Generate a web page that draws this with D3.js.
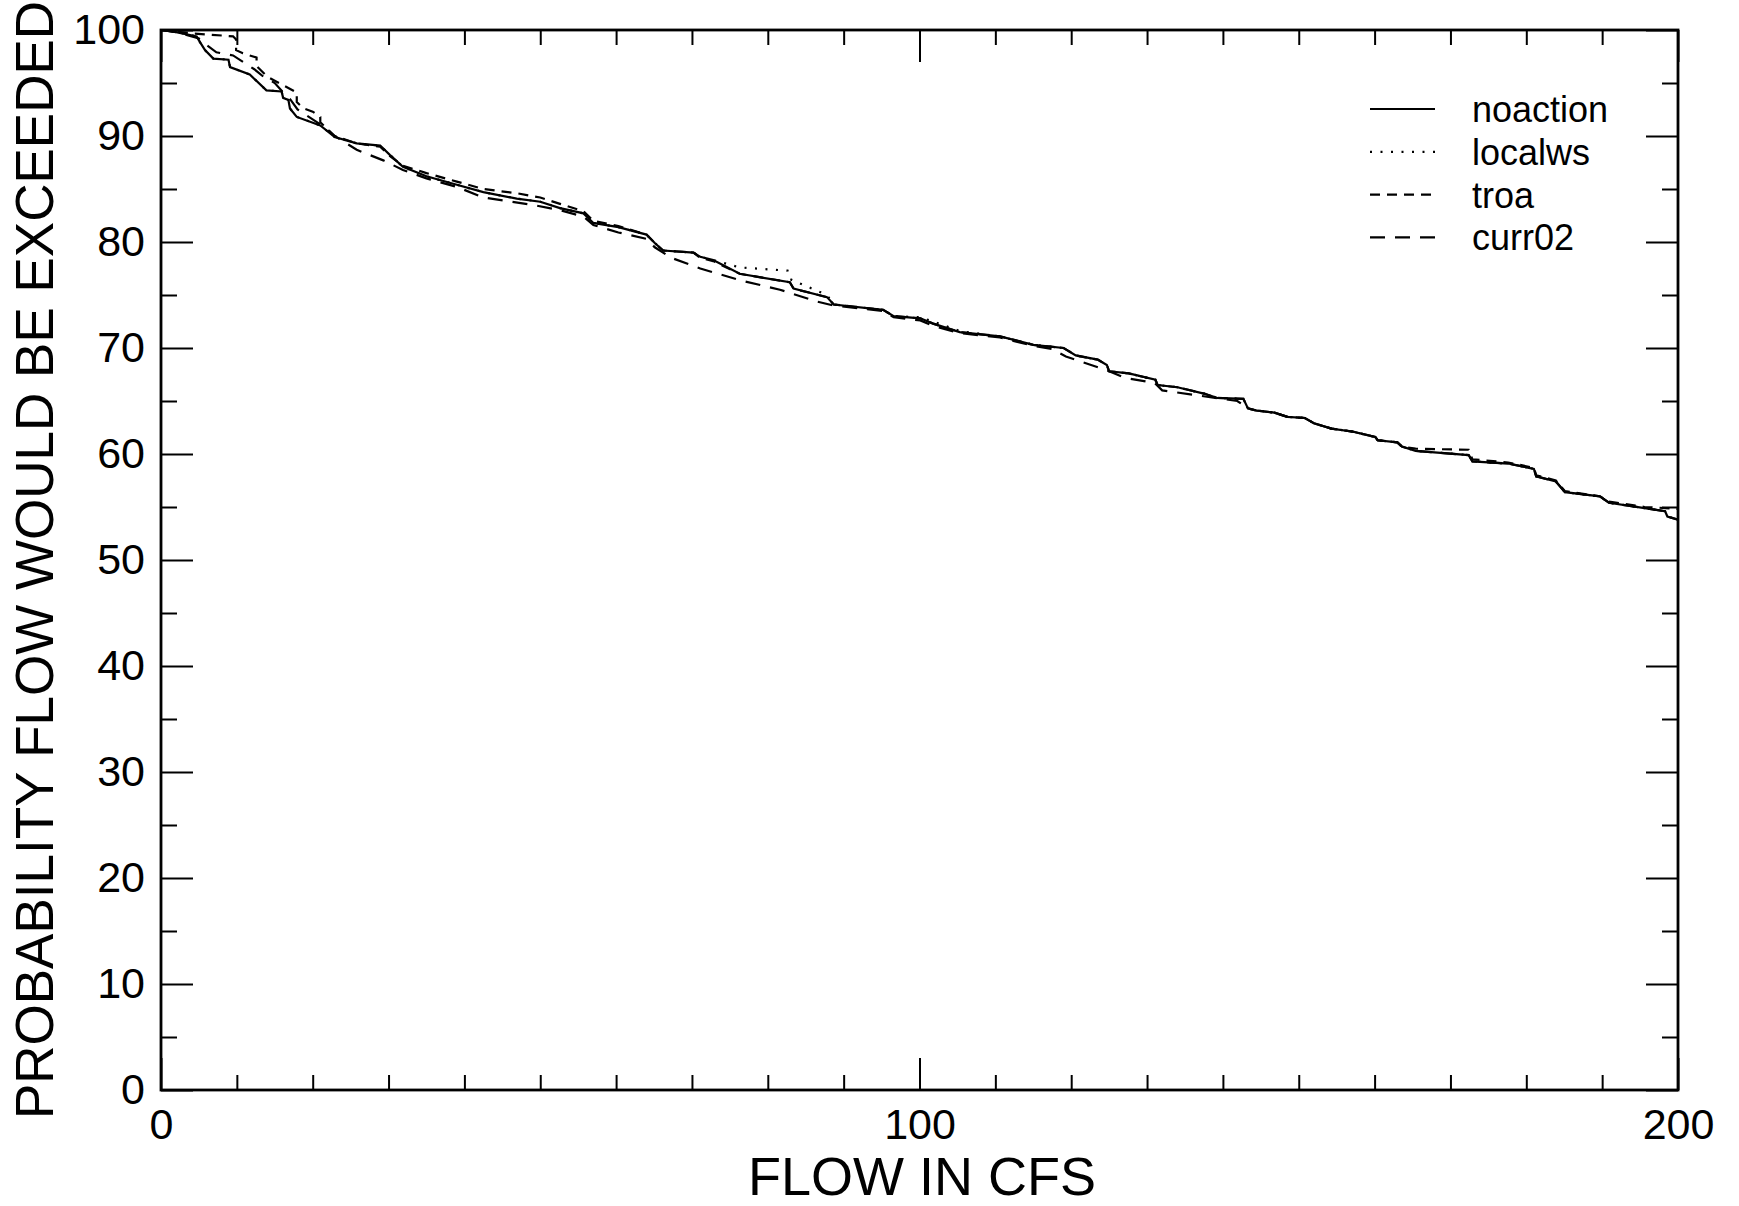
<!DOCTYPE html>
<html>
<head>
<meta charset="utf-8">
<script src="https://cdn.jsdelivr.net/npm/d3@7"></script>
<style>
  html, body { margin: 0; padding: 0; background: #fff; }
  svg { display: block; font-family: "Liberation Sans", Arial, sans-serif; }
</style>
</head>
<body>
<div id="chart"></div>
<script>
// ---- data (flow in cfs, probability exceeded %) ----
const seriesNames = ["noaction", "localws", "troa", "curr02"];
const xMajorTicks = [0, 100, 200];
const yMajorTicks = [0, 10, 20, 30, 40, 50, 60, 70, 80, 90, 100];

const noaction = [[0,100],[2,99.8],[4.7,99.4],[5.1,98.9],[5.8,98.1],[6.9,97.3],[8.9,97.2],[9.1,96.5],[11.7,95.8],[13.9,94.3],[15.9,94.2],[16.1,93.6],[16.8,93.4],[17.0,92.6],[17.9,91.8],[21.0,91.0],[22.9,89.9],[25.8,89.3],[28.9,89.1],[30.2,88.2],[31.9,87.1],[35.0,86.2],[39.0,85.4],[42.5,84.7],[46.9,84.1],[50.0,83.8],[52.6,83.2],[55.7,82.7],[57.0,81.8],[60.3,81.4],[64.0,80.7],[65.1,79.9],[66.2,79.2],[70.2,79.0],[71.1,78.6],[72.8,78.3],[76.3,77.0],[82.9,76.2],[83.4,75.6],[87.8,74.8],[88.7,74.1],[95.2,73.6],[96.6,73.0],[100.1,72.8],[101.8,72.3],[105.3,71.5],[110.6,71.1],[115.0,70.3],[119.0,70.0],[120.6,69.3],[123.5,68.9],[124.7,68.4],[125.0,67.8],[127.6,67.6],[131.1,67.0],[131.4,66.5],[134.0,66.3],[137.5,65.7],[139.2,65.3],[142.7,65.2],[143.3,64.3],[144.4,64.1],[146.8,63.9],[148.5,63.5],[150.8,63.4],[152.0,62.9],[154.3,62.4],[157.2,62.1],[160.1,61.6],[160.4,61.3],[163.0,61.1],[163.6,60.7],[165.4,60.3],[172.4,59.9],[172.9,59.3],[177.6,59.1],[181.0,58.6],[181.3,57.9],[183.9,57.4],[185.1,56.4],[189.7,56.0],[190.9,55.4],[195.6,54.9],[198.3,54.6],[198.6,54.1],[200,53.8]];

const localws = [[0,100],[2,99.8],[4.7,99.4],[5.1,98.9],[5.8,98.1],[6.9,97.3],[8.9,97.2],[9.1,96.5],[11.7,95.8],[13.9,94.3],[15.9,94.2],[16.1,93.6],[16.8,93.4],[17.0,92.6],[17.9,91.8],[21.0,91.0],[22.9,89.9],[25.8,89.3],[28.9,89.1],[30.2,88.2],[31.9,87.1],[35.0,86.2],[39.0,85.4],[42.5,84.7],[46.9,84.1],[50.0,83.8],[52.6,83.2],[55.7,82.7],[57.0,81.8],[60.3,81.4],[64.0,80.7],[65.1,79.9],[66.2,79.2],[70.2,79.0],[71.1,78.6],[72.8,78.3],[76.3,77.6],[82.6,77.3],[82.9,76.5],[87.8,75.0],[88.7,74.1],[95.2,73.6],[96.6,73.0],[100.1,72.9],[101.8,72.5],[105.3,71.6],[110.6,71.1],[115.0,70.3],[119.0,70.0],[120.6,69.3],[123.5,68.9],[124.7,68.4],[125.0,67.8],[127.6,67.6],[131.1,67.0],[131.4,66.5],[134.0,66.3],[137.5,65.7],[139.2,65.3],[142.7,65.2],[143.3,64.3],[144.4,64.1],[146.8,63.9],[148.5,63.5],[150.8,63.4],[152.0,62.9],[154.3,62.4],[157.2,62.1],[160.1,61.6],[160.4,61.3],[163.0,61.1],[163.6,60.7],[165.4,60.3],[172.4,59.9],[172.9,59.3],[177.6,59.1],[181.0,58.6],[181.3,57.9],[183.9,57.4],[185.1,56.4],[189.7,56.0],[190.9,55.4],[195.6,54.9],[198.3,54.6],[198.6,54.1],[200,53.8]];

const troa = [[0,100],[3.8,99.7],[9.5,99.4],[9.9,99.1],[9.9,98.1],[10.8,97.8],[12.6,97.4],[12.6,96.6],[14.0,95.6],[15.3,95.1],[17.9,94.1],[17.9,93.2],[18.8,92.6],[20.0,92.3],[21.0,91.8],[21.0,91.3],[22.9,90.0],[25.8,89.3],[28.9,89.0],[30.2,88.1],[31.9,87.2],[35.0,86.5],[39.0,85.7],[42.5,85.0],[46.9,84.6],[50.0,84.2],[52.6,83.6],[55.7,82.9],[57.0,82.0],[60.3,81.5],[64.0,80.7],[65.1,79.9],[66.2,79.2],[70.2,79.0],[71.1,78.5],[72.8,78.2],[76.3,77.0],[82.9,76.2],[83.4,75.6],[87.8,74.8],[88.7,74.1],[95.2,73.6],[96.6,73.0],[100.1,72.8],[101.8,72.3],[105.3,71.5],[110.6,71.1],[115.0,70.3],[119.0,70.0],[120.6,69.3],[123.5,68.9],[124.7,68.4],[125.0,67.8],[127.6,67.6],[131.1,67.0],[131.4,66.5],[134.0,66.3],[137.5,65.7],[139.2,65.3],[142.7,65.2],[143.3,64.3],[144.4,64.1],[146.8,63.9],[148.5,63.5],[150.8,63.4],[152.0,62.9],[154.3,62.4],[157.2,62.1],[160.1,61.6],[160.4,61.3],[163.0,61.1],[163.6,60.7],[165.4,60.5],[172.4,60.4],[172.9,59.5],[177.6,59.2],[181.0,58.7],[181.3,58.0],[183.9,57.5],[185.1,56.5],[189.7,56.0],[190.9,55.5],[195.6,55.0],[198.3,54.9],[200,54.8]];

const curr02 = [[0,100],[2,99.8],[5.0,99.2],[6.0,98.6],[7.3,97.9],[9.5,97.6],[11.0,96.9],[12.3,96.3],[13.5,95.6],[15.0,95.0],[16.0,94.2],[17.0,93.5],[18.0,92.5],[21.0,91.1],[22.9,90.0],[25.8,88.7],[29.3,87.7],[31.9,86.8],[35.0,86.0],[39.0,85.2],[42.5,84.2],[49.0,83.5],[52.6,83.0],[55.7,82.4],[57.0,81.6],[60.3,80.9],[64.0,80.3],[65.1,79.5],[67.3,78.5],[71.1,77.5],[76.3,76.4],[81.6,75.5],[86.4,74.4],[88.7,74.0],[95.2,73.5],[96.6,72.9],[100.1,72.6],[101.8,72.1],[105.3,71.4],[110.6,71.0],[115.0,70.2],[117.5,69.9],[119.3,69.2],[124.7,67.9],[127.0,67.2],[131.0,66.7],[132.0,66.0],[141.9,65.0],[143.3,64.3],[144.4,64.1],[146.8,63.9],[148.5,63.5],[150.8,63.4],[152.0,62.9],[154.3,62.4],[157.2,62.1],[160.1,61.6],[160.4,61.3],[163.0,61.1],[163.6,60.7],[165.4,60.3],[172.4,59.9],[172.9,59.3],[177.6,59.1],[181.0,58.6],[181.3,57.9],[183.9,57.4],[185.1,56.4],[189.7,56.0],[190.9,55.4],[195.6,54.9],[198.3,54.6],[198.6,54.1],[200,53.8]];

// ---- layout ----
const W = 1739, H = 1206;
const L = 161, R = 1678, T = 30, B = 1090;

const svg = d3.select("#chart").append("svg").attr("width", W).attr("height", H);

const x = d3.scaleLinear().domain([0, 200]).range([L, R]);
const y = d3.scaleLinear().domain([0, 100]).range([B, T]);

svg.append("defs").append("clipPath").attr("id", "clip")
  .append("rect").attr("x", L).attr("y", T).attr("width", R - L).attr("height", B - T);

const styles = {
  noaction: null,
  localws: "2,8.5",
  troa: "10,7",
  curr02: "15,10"
};
const dataBy = { noaction, localws, troa, curr02 };

const line = d3.line().x(d => x(d[0])).y(d => y(d[1]));
const g = svg.append("g").attr("clip-path", "url(#clip)");
["curr02", "troa", "localws", "noaction"].forEach(name => {
  g.append("path")
    .datum(dataBy[name])
    .attr("d", line)
    .attr("fill", "none")
    .attr("stroke", "#000")
    .attr("stroke-width", 2.2)
    .attr("stroke-dasharray", styles[name]);
});

// ---- axes ----
const xMinor = d3.range(0, 201, 10).filter(v => !xMajorTicks.includes(v));
const yMinor = d3.range(5, 100, 10);

function styleAxis(sel) {
  sel.select(".domain").remove();
  sel.selectAll(".tick line").attr("stroke", "#000").attr("stroke-width", 2);
  sel.selectAll("text").attr("font-size", 43).attr("fill", "#000")
    .attr("font-family", "'Liberation Sans', Arial, sans-serif");
}

// bottom
svg.append("g").attr("transform", `translate(0,${B})`)
  .call(d3.axisBottom(x).tickValues(xMinor).tickSize(-15).tickFormat(""))
  .call(styleAxis);
svg.append("g").attr("transform", `translate(0,${B})`)
  .call(d3.axisBottom(x).tickValues(xMajorTicks).tickSize(-32).tickPadding(18).tickFormat(d3.format("d")))
  .call(styleAxis);
// top
svg.append("g").attr("transform", `translate(0,${T})`)
  .call(d3.axisTop(x).tickValues(xMinor).tickSize(-15).tickFormat(""))
  .call(styleAxis);
svg.append("g").attr("transform", `translate(0,${T})`)
  .call(d3.axisTop(x).tickValues(xMajorTicks).tickSize(-32).tickFormat(""))
  .call(styleAxis);
// left
svg.append("g").attr("transform", `translate(${L},0)`)
  .call(d3.axisLeft(y).tickValues(yMinor).tickSize(-16).tickFormat(""))
  .call(styleAxis);
svg.append("g").attr("transform", `translate(${L},0)`)
  .call(d3.axisLeft(y).tickValues(yMajorTicks).tickSize(-32).tickPadding(16).tickFormat(d3.format("d")))
  .call(styleAxis);
// right
svg.append("g").attr("transform", `translate(${R},0)`)
  .call(d3.axisRight(y).tickValues(yMinor).tickSize(-16).tickFormat(""))
  .call(styleAxis);
svg.append("g").attr("transform", `translate(${R},0)`)
  .call(d3.axisRight(y).tickValues(yMajorTicks).tickSize(-32).tickFormat(""))
  .call(styleAxis);

// frame
svg.append("rect").attr("x", L).attr("y", T).attr("width", R - L).attr("height", B - T)
  .attr("fill", "none").attr("stroke", "#000").attr("stroke-width", 2.8);

// axis titles
svg.append("text").attr("x", 922).attr("y", 1195)
  .attr("text-anchor", "middle").attr("font-size", 54).attr("fill", "#000")
  .text("FLOW IN CFS");
svg.append("text")
  .attr("transform", `translate(53,560) rotate(-90)`)
  .attr("text-anchor", "middle").attr("font-size", 53).attr("fill", "#000")
  .text("PROBABILITY FLOW WOULD BE EXCEEDED");

// legend
const leg = svg.append("g");
seriesNames.forEach((name, i) => {
  const ly = 109 + i * 42.8;
  leg.append("line").attr("x1", 1370).attr("x2", 1435).attr("y1", ly).attr("y2", ly)
    .attr("stroke", "#000").attr("stroke-width", 2.2)
    .attr("stroke-dasharray", styles[name]);
  leg.append("text").attr("x", 1472).attr("y", ly + 13)
    .attr("font-size", 36).attr("fill", "#000").text(name);
});
</script>
</body>
</html>
